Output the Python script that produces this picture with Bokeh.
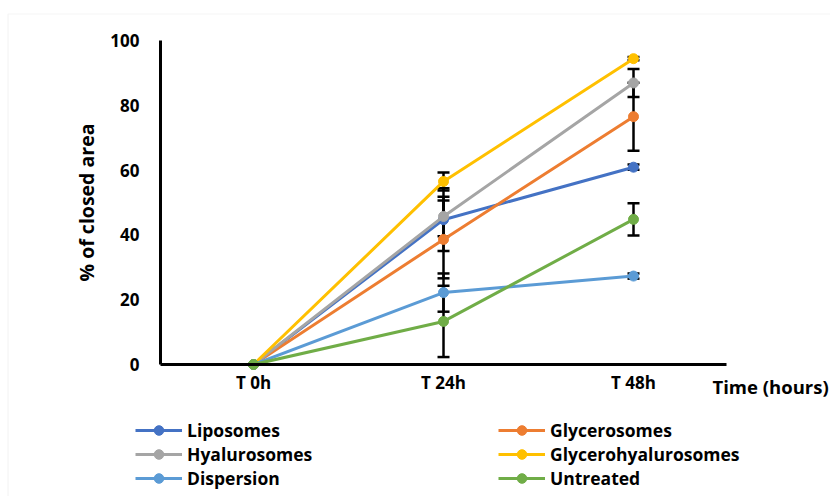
from bokeh.plotting import figure
from bokeh.models import (Range1d, ColumnDataSource, Whisker, TeeHead, BoxAnnotation,
                          Legend, LegendItem, Label, FixedTicker)
from bokeh.embed import file_html
from bokeh.resources import INLINE

# ---- data ----
times = ["T 0h", "T 24h", "T 48h"]
series_names = ["Liposomes", "Glycerosomes", "Hyalurosomes",
                "Glycerohyalurosomes", "Dispersion", "Untreated"]
liposomes = [0, 44.7, 60.9]
glycerosomes = [0, 38.6, 76.5]
hyalurosomes = [0, 45.7, 86.9]
glycerohyalurosomes = [0, 56.5, 94.4]
dispersion = [0, 22.2, 27.3]
untreated = [0, 13.3, 44.8]

err_liposomes = [0, 9.7, 0.8]
err_glycerosomes = [0, 12.0, 10.5]
err_hyalurosomes = [0, 6.1, 4.3]
err_glycerohyalurosomes = [0, 2.8, 0.5]
err_dispersion = [0, 5.9, 0.8]
err_untreated = [0, 11.0, 5.0]

y_ticks = [0, 20, 40, 60, 80, 100]

colors = ["#4472C4", "#ED7D31", "#A5A5A5", "#FFC000", "#5B9BD5", "#70AD47"]
values_list = [liposomes, glycerosomes, hyalurosomes, glycerohyalurosomes, dispersion, untreated]
errs_list = [err_liposomes, err_glycerosomes, err_hyalurosomes,
             err_glycerohyalurosomes, err_dispersion, err_untreated]

positions = list(range(len(times)))   # category slots on the x scale

FONT = "Open Sans"

p = figure(width=830, height=496,
           x_range=Range1d(-1.3316, 3.0368), y_range=Range1d(-40.74, 112.35),
           output_backend="svg", toolbar_location=None,
           min_border_left=0, min_border_top=0, min_border_right=0,
           min_border_bottom=0)
p.outline_line_color = None
p.xgrid.grid_line_color = None
p.ygrid.grid_line_color = None

# chart-area border (only its top and left edges fall inside the picture)
p.add_layout(BoxAnnotation(left=-1.292, top=108.18, right=5, bottom=-80,
                           fill_alpha=0, line_color="#d9d9d9", line_width=1.2,
                           level="underlay"))

for ax in (p.xaxis[0], p.yaxis[0]):
    ax.axis_line_width = 3
    ax.axis_line_color = "black"
    ax.major_tick_line_color = None
    ax.minor_tick_line_color = None
    ax.major_label_text_font = FONT
    ax.major_label_text_font_style = "bold"
    ax.major_label_text_font_size = "17px"
    ax.major_label_text_color = "black"

p.xaxis.fixed_location = 0
p.xaxis.bounds = (-0.49, 2.49)
p.xaxis.ticker = FixedTicker(ticks=positions)
p.xaxis.major_label_overrides = {i: t for i, t in zip(positions, times)}
p.xaxis.major_label_standoff = 0

p.yaxis.fixed_location = -0.49
p.yaxis.bounds = (0, 100)
p.yaxis.ticker = FixedTicker(ticks=y_ticks)
p.yaxis.major_label_standoff = 15
p.yaxis.axis_label = "% of closed area"
p.yaxis.axis_label_text_font = FONT
p.yaxis.axis_label_text_font_style = "bold"
p.yaxis.axis_label_text_font_size = "19.5px"
p.yaxis.axis_label_text_color = "black"
p.yaxis.axis_label_standoff = 7

# error bars (underneath)
for vals, errs in zip(values_list, errs_list):
    src = ColumnDataSource(dict(x=positions,
                                upper=[v + e for v, e in zip(vals, errs)],
                                lower=[v - e for v, e in zip(vals, errs)]))
    w = Whisker(source=src, base="x", upper="upper", lower="lower",
                line_color="black", line_width=2.5,
                upper_head=TeeHead(size=12, line_width=2.5, line_color="black"),
                lower_head=TeeHead(size=12, line_width=2.5, line_color="black"),
                level="underlay")
    p.add_layout(w)

items = []
for name, vals, col in zip(series_names, values_list, colors):
    src = ColumnDataSource(dict(x=positions, y=vals))
    ln = p.line("x", "y", source=src, line_color=col, line_width=3)
    sc = p.scatter("x", "y", source=src, size=10, fill_color=col, line_color=col)
    items.append(LegendItem(label=name, renderers=[ln, sc]))

def make_legend(its, x):
    lg = Legend(items=its, location=(x, 6), orientation="vertical",
                border_line_color=None, background_fill_alpha=0,
                padding=0, margin=0, spacing=0,
                glyph_width=47, glyph_height=24, label_height=24,
                label_standoff=5,
                label_text_font=FONT, label_text_font_style="bold",
                label_text_font_size="17.5px", label_text_color="black")
    p.add_layout(lg, "center")

make_legend([items[0], items[2], items[4]], 135)
make_legend([items[1], items[3], items[5]], 498)

p.add_layout(Label(x=2.4158, y=-6.8, text="Time (hours)", text_font=FONT,
                   text_font_style="bold", text_font_size="18.5px", text_color="black",
                   text_baseline="middle", text_align="left"))

open("out.html", "w").write(file_html(p, INLINE))
